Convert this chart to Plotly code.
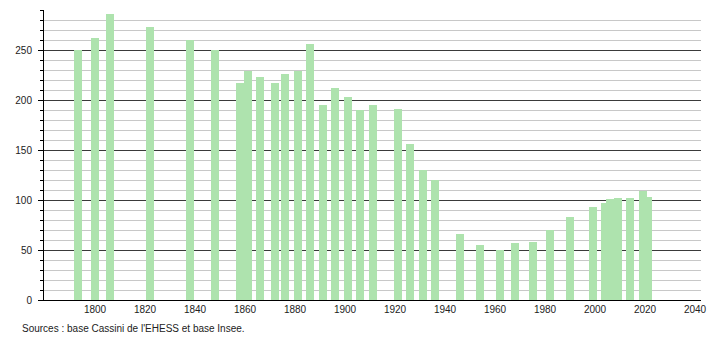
import plotly.graph_objects as go

years = [1793, 1800, 1806, 1822, 1838, 1848, 1858, 1861, 1866, 1872, 1876, 1881,
         1886, 1891, 1896, 1901, 1906, 1911, 1921, 1926, 1931, 1936, 1946, 1954,
         1962, 1968, 1975, 1982, 1990, 1999, 2004, 2006, 2009, 2014, 2019, 2021]
population = [250, 262, 286, 273, 260, 250, 217, 229, 223, 217, 226, 229,
              256, 195, 212, 203, 190, 195, 191, 156, 130, 120, 66, 55,
              50, 57, 58, 70, 83, 93, 97, 101, 102, 102, 109, 103]
x_ticks = list(range(1800, 2041, 20))
y_ticks = [0, 50, 100, 150, 200, 250]
source_text = "Sources : base Cassini de l'EHESS et base Insee."

fig = go.Figure()
fig.add_trace(go.Bar(
    x=years, y=population, width=3.2,
    marker=dict(color="#aee3ae", line=dict(width=0)),
    hoverinfo="x+y",
))

fig.update_layout(
    width=710, height=340,
    margin=dict(l=44, r=9, t=10, b=40, autoexpand=False),
    paper_bgcolor="white", plot_bgcolor="white",
    font=dict(family="Liberation Sans, Arial, sans-serif", size=10, color="#222"),
    showlegend=False,
    bargap=0,
    xaxis=dict(
        range=[1779.6, 2042.4], automargin=False,
        tickvals=x_ticks, ticktext=[str(v) for v in x_ticks],
        showgrid=False, zeroline=False,
        showline=True, linecolor="#000", linewidth=1,
        ticks="", ticklen=0,
    ),
    yaxis=dict(
        range=[0, 290], automargin=False,
        tickvals=y_ticks,
        showgrid=True, gridcolor="#3a3a3a", gridwidth=1,
        zeroline=False,
        showline=True, linecolor="#000", linewidth=1,
        ticks="outside", ticklen=5, tickcolor="#000",
        ticklabelstandoff=4,
        minor=dict(dtick=10, tick0=0, showgrid=True, gridcolor="#c8c8c8",
                   gridwidth=1, ticks="outside", ticklen=3, tickcolor="#000"),
    ),
    annotations=[dict(
        text=source_text, xref="paper", yref="paper",
        x=-0.0365, y=-0.0966, xanchor="left", yanchor="middle",
        showarrow=False, font=dict(size=10, color="#222"),
    )],
)

fig.write_html("out.html")
